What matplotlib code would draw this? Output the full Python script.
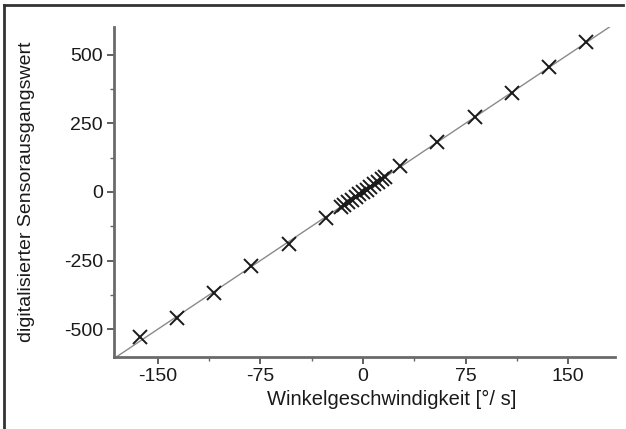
import numpy as np
import matplotlib.pyplot as plt
from matplotlib.lines import Line2D
from matplotlib.ticker import MultipleLocator

plt.rcParams['font.family'] = ['Liberation Sans', 'DejaVu Sans']
plt.rcParams['axes.unicode_minus'] = False

# Calibration points: angular rate [deg/s] vs. digitised sensor output
rate = [-163, -136, -109, -82, -54, -27,
        -16.3, -13.6, -10.9, -8.2, -5.4, -2.7, 0, 2.7, 5.4, 8.2, 10.9, 13.6, 16.3,
        27, 54, 82, 109, 136, 163]
output = [-529, -460, -366, -268, -188, -94,
          -55, -46, -37, -28, -18, -9, 0, 9, 18, 28, 37, 46, 55,
          94, 181, 272, 359, 456, 547]

x_ticks = [-150, -75, 0, 75, 150]
y_ticks = [-500, -250, 0, 250, 500]

x_label = 'Winkelgeschwindigkeit [°/ s]'
y_label = 'digitalisierter Sensorausgangswert'

xlim = (-182, 184)
ylim = (-600, 600)

fig = plt.figure(figsize=(6.26, 4.29), dpi=100)
ax = fig.add_axes([0.182, 0.168, 0.8, 0.769])

# linear fit through the calibration points
slope, offset = np.polyfit(rate, output, 1)
xf = np.array(xlim)
ax.plot(xf, slope * xf + offset, color='#8a8a8a', linewidth=1.0, zorder=1)
ax.plot(rate, output, linestyle='none', marker='x', markersize=10,
        markeredgewidth=1.4, color='#1a1a1a', zorder=2)

ax.set_xlim(*xlim)
ax.set_ylim(*ylim)
ax.set_xticks(x_ticks)
ax.set_yticks(y_ticks)
ax.xaxis.set_minor_locator(MultipleLocator(37.5))
ax.yaxis.set_minor_locator(MultipleLocator(125))

for side in ('top', 'right'):
    ax.spines[side].set_visible(False)
for side in ('left', 'bottom'):
    ax.spines[side].set_color('#6a6a6a')
    ax.spines[side].set_linewidth(2.0)

ax.tick_params(which='major', direction='out', length=5, width=1.2,
               color='#444444', labelsize=14, labelcolor='#1a1a1a', pad=3)
ax.tick_params(which='minor', direction='out', length=3, width=1.0,
               color='#666666')

ax.set_xlabel(x_label, fontsize=14.5, color='#1a1a1a')
ax.xaxis.set_label_coords(0.555, -0.1)
ax.set_ylabel(y_label, fontsize=14, color='#1a1a1a')
ax.yaxis.set_label_coords(-0.158, 0.5)

# frame edges along top and left of the figure
fig.add_artist(Line2D([0.006, 0.995], [0.988, 0.988], color='#333333',
                      linewidth=2.0, transform=fig.transFigure))
fig.add_artist(Line2D([0.006, 0.006], [0.0, 0.988], color='#333333',
                      linewidth=2.0, transform=fig.transFigure))

fig.savefig('out.png', dpi=100)
